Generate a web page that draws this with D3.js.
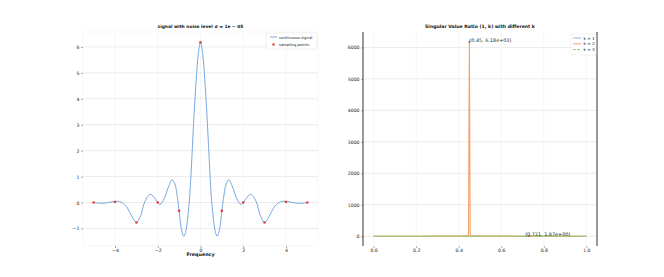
<!DOCTYPE html>
<html><head><meta charset="utf-8">
<script src="https://cdn.jsdelivr.net/npm/d3@7"></script>
<style>body{margin:0;background:#fff}svg{display:block}text{font-family:"DejaVu Sans",sans-serif}</style>
</head><body><svg id="c" width="664" height="277"></svg>
<script>
// ---- left panel data ----
const sigX = [-5,-4.6,-4.3,-4,-3.8,-3.5,-3.2,-3,-2.8,-2.6,-2.35,-2.1,-2,-1.9,-1.7,-1.5,-1.33,-1.2,-1.1,-1,-0.9,-0.78,-0.7,-0.6,-0.5,-0.4,-0.3,-0.2,-0.1,0,0.1,0.2,0.3,0.4,0.5,0.6,0.7,0.78,0.9,1,1.1,1.2,1.33,1.5,1.7,1.9,2,2.1,2.35,2.6,2.8,3,3.2,3.5,3.8,4,4.3,4.6,5];
const sigY = [0,-0.03,0,0.05,0.04,-0.12,-0.55,-0.77,-0.5,0.05,0.32,0.12,0,-0.08,0.15,0.6,0.88,0.72,0.3,-0.32,-1.0,-1.3,-1.15,-0.6,0.3,1.8,3.4,4.75,5.75,6.2,5.75,4.75,3.4,1.8,0.3,-0.6,-1.15,-1.3,-1.0,-0.32,0.3,0.72,0.88,0.6,0.15,-0.08,0,0.12,0.32,0.05,-0.5,-0.77,-0.55,-0.12,0.04,0.05,0,-0.03,0];
const sampX = [-5,-4,-3,-2,-1,0,1,2,3,4,5];
const sampY = [0,0.02,-0.77,0,-0.32,6.18,-0.32,0,-0.77,0.02,0];
const leftXTicks = [-4,-2,0,2,4];
const leftYTicks = [-1,0,1,2,3,4,5,6];
const leftTitle = "signal with noise level σ = 1e − 05";
const leftXLabel = "Frequency";
const leftLegend = ["continuous signal","sampling points"];

// ---- right panel data ----
const ratioX = [0,0.1,0.2,0.3,0.4,0.44,0.446,0.45,0.454,0.46,0.5,0.6,0.7,0.731,0.8,0.9,1.0];
const k1 = [1,1,1,1,1,1,1,1,1,1,1,1,1,1,1,1,1];
const k2 = [3,3,3,4,6,12,40,6180,40,12,6,4,3,2,3,3,3];
const k3 = [2,2,2,2,2,2,2,3,2,2,2,2,2,1.87,2,2,2];
const rightXTicks = [0,0.2,0.4,0.6,0.8,1.0];
const rightYTicks = [0,1000,2000,3000,4000,5000,6000];
const rightTitle = "Singular Value Ratio (1, k) with different k";
const rightLegend = ["k = 1","k = 2","k = 3"];
const annots = [{x:0.45,y:6180,t:"(0.45, 6.18e+03)",dx:0},{x:0.731,y:1.87,t:"(0.731, 1.87e+00)",dx:-4}];

const svg = d3.select("#c");
const grid = "#e6e6e6", fs = 4.6;

// LEFT
const L = {x0:83,x1:318,y0:32,y1:246};
const lx = d3.scaleLinear().domain([-5.5,5.5]).range([L.x0,L.x1]);
const ly = d3.scaleLinear().domain([-1.675,6.575]).range([L.y1,L.y0]);
const gl = svg.append("g");
gl.append("rect").attr("x",L.x0).attr("y",L.y0).attr("width",L.x1-L.x0).attr("height",L.y1-L.y0).attr("fill","none").attr("stroke","#f0f0f0").attr("stroke-width",0.6);
gl.selectAll(".gx").data(leftXTicks).join("line").attr("x1",d=>lx(d)).attr("x2",d=>lx(d)).attr("y1",L.y0).attr("y2",L.y1).attr("stroke","#f0f0f0").attr("stroke-width",0.6);
gl.selectAll(".gy").data(leftYTicks).join("line").attr("x1",L.x0).attr("x2",L.x1).attr("y1",d=>ly(d)).attr("y2",d=>ly(d)).attr("stroke",grid).attr("stroke-width",0.8);
const axL = gl.append("g").attr("transform",`translate(${L.x0},0)`).call(d3.axisLeft(ly).tickValues(leftYTicks).tickSize(2).tickPadding(1.5).tickFormat(d=>d<0?"−"+Math.abs(d):d));
const axB = gl.append("g").attr("transform",`translate(0,${L.y1})`).call(d3.axisBottom(lx).tickValues(leftXTicks).tickSize(2).tickPadding(1).tickFormat(d=>d<0?"−"+Math.abs(d):d));
[axL,axB].forEach(a=>{a.select(".domain").remove();a.selectAll("line").attr("stroke","#555").attr("stroke-width",0.5);a.selectAll("text").attr("font-size",fs).attr("fill","#222").attr("font-family","DejaVu Sans");});
gl.append("path").datum(sigX.map((x,i)=>[x,sigY[i]])).attr("fill","none").attr("stroke","#6a9ddb").attr("stroke-width",0.9)
  .attr("d",d3.line().x(d=>lx(d[0])).y(d=>ly(d[1])).curve(d3.curveCatmullRom));
gl.selectAll(".pt").data(sampX.map((x,i)=>[x,sampY[i]])).join("circle").attr("cx",d=>lx(d[0])).attr("cy",d=>ly(d[1])).attr("r",1.3).attr("fill","#e8403a");
gl.append("text").attr("x",(L.x0+L.x1)/2).attr("y",28).attr("text-anchor","middle").attr("font-size",4.4).attr("font-weight","bold").attr("fill","#111").text(leftTitle);
gl.append("text").attr("x",(L.x0+L.x1)/2).attr("y",256).attr("text-anchor","middle").attr("font-size",4.8).attr("font-weight","bold").attr("fill","#111").text(leftXLabel);
// legend left
const lg = gl.append("g");
lg.append("rect").attr("x",266).attr("y",33).attr("width",51).attr("height",16).attr("fill","#fff").attr("stroke","#e0e0e0").attr("stroke-width",0.5).attr("rx",1);
lg.append("line").attr("x1",270).attr("x2",277).attr("y1",37).attr("y2",37).attr("stroke","#6a9ddb").attr("stroke-width",0.9);
lg.append("circle").attr("cx",273.5).attr("cy",44.5).attr("r",1.2).attr("fill","#e8403a");
leftLegend.forEach((t,i)=>lg.append("text").attr("x",279).attr("y",38.5+i*7.5).attr("font-size",3.8).attr("fill","#222").text(t));

// RIGHT
const R = {x0:363,x1:597,y0:32,y1:246};
const rx = d3.scaleLinear().domain([-0.05,1.05]).range([R.x0,R.x1]);
const ry = d3.scaleLinear().domain([-309,6489]).range([R.y1,R.y0]);
const gr = svg.append("g");
gr.selectAll(".gx").data(rightXTicks).join("line").attr("x1",d=>rx(d)).attr("x2",d=>rx(d)).attr("y1",R.y0).attr("y2",R.y1).attr("stroke","#f0f0f0").attr("stroke-width",0.6);
gr.selectAll(".gy").data(rightYTicks).join("line").attr("x1",R.x0).attr("x2",R.x1).attr("y1",d=>ry(d)).attr("y2",d=>ry(d)).attr("stroke",grid).attr("stroke-width",0.8);
const axRL = gr.append("g").attr("transform",`translate(${R.x0},0)`).call(d3.axisLeft(ry).tickValues(rightYTicks).tickSize(2).tickPadding(1.5).tickFormat(d3.format("d")));
const axRB = gr.append("g").attr("transform",`translate(0,${R.y1})`).call(d3.axisBottom(rx).tickValues(rightXTicks).tickSize(2).tickPadding(1).tickFormat(d3.format(".1f")));
[axRL,axRB].forEach(a=>{a.select(".domain").remove();a.selectAll("line").attr("stroke","#555").attr("stroke-width",0.5);a.selectAll("text").attr("font-size",fs).attr("fill","#222").attr("font-family","DejaVu Sans");});
gr.append("line").attr("x1",R.x0).attr("x2",R.x0).attr("y1",R.y0).attr("y2",R.y1).attr("stroke","#333").attr("stroke-width",1);
gr.append("line").attr("x1",R.x1).attr("x2",R.x1).attr("y1",R.y0).attr("y2",R.y1).attr("stroke","#333").attr("stroke-width",1);
const rl = d3.line().x(d=>rx(d[0])).y(d=>ry(d[1]));
const series = [{v:k1,c:"#8ab4e8",dash:null},{v:k2,c:"#f5a06a",dash:null},{v:k3,c:"#8fd35f",dash:"3,1"}];
series.forEach(s=>gr.append("path").datum(ratioX.map((x,i)=>[x,s.v[i]])).attr("fill","none").attr("stroke",s.c).attr("stroke-width",1.1).attr("stroke-dasharray",s.dash).attr("d",rl));
annots.forEach(a=>{
  gr.append("circle").attr("cx",rx(a.x)).attr("cy",ry(a.y)).attr("r",0.9).attr("fill","#e8403a");
  gr.append("text").attr("x",rx(a.x)+a.dx).attr("y",ry(a.y)).attr("font-size",4.9).attr("fill","#222").text(a.t);
});
gr.append("text").attr("x",(R.x0+R.x1)/2).attr("y",28).attr("text-anchor","middle").attr("font-size",4.6).attr("font-weight","bold").attr("fill","#111").text(rightTitle);
const rg = gr.append("g");
rg.append("rect").attr("x",571).attr("y",34).attr("width",25).attr("height",21).attr("fill","#fff").attr("stroke","#e0e0e0").attr("stroke-width",0.5).attr("rx",1);
series.forEach((s,i)=>{
  rg.append("line").attr("x1",573).attr("x2",581).attr("y1",38+i*5.8).attr("y2",38+i*5.8).attr("stroke",s.c).attr("stroke-width",1).attr("stroke-dasharray",s.dash);
  rg.append("text").attr("x",583.5).attr("y",39.5+i*5.8).attr("font-size",4.2).attr("fill","#222").text(rightLegend[i]);
});
</script></body></html>
